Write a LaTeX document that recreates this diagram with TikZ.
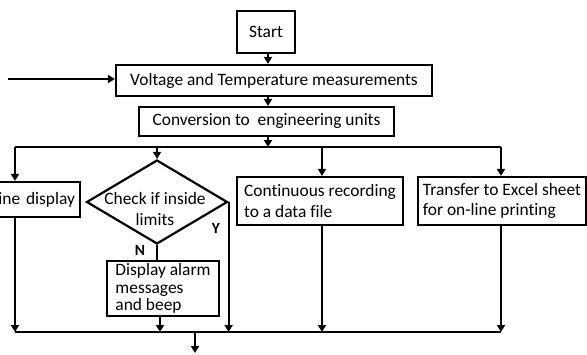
\documentclass[tikz,border=0pt]{standalone}
\usepackage{fontspec}
\setmainfont{Carlito}[Ligatures=NoCommon]
\usetikzlibrary{arrows.meta,shapes.geometric}

\begin{document}
\begin{tikzpicture}[x=1pt,y=-1pt,
  line width=2.2pt,
  txt/.style={font=\fontsize{17.4}{20.5}\selectfont},
  box/.style={draw,rectangle,inner sep=0pt,txt},
  arr/.style={-{Triangle[length=7pt,width=8pt]}},
  yn/.style={font=\fontsize{15.5}{18}\selectfont\bfseries,inner sep=0pt}]
\useasboundingbox (0,0) rectangle (587,354);
\clip (0,0) rectangle (587,354);

% process boxes
\node[box,minimum width=58,minimum height=42] (start) at (266,32) {Start};
\node[box,minimum width=316,minimum height=31] (vm) at (274,80.5)
  {Voltage and Temperature measurements};
\node[box,minimum width=255,minimum height=29] (conv) at (266.5,121.5)
  {Conversion to\ \ engineering units};
\node[box,minimum width=130,minimum height=35,text width=120,align=right]
  (disp) at (15,199.5) {On-line display};
\node[draw,diamond,minimum width=141,minimum height=84,inner sep=0pt]
  (dia) at (157,202) {};
\node[txt,align=center,inner sep=0pt] (diatxt) at (155,209)
  {Check if inside\\limits};
\node[box,minimum width=112,minimum height=55,align=left,
  font=\fontsize{17.4}{17.5}\selectfont] (alarm) at (163,288.5)
  {Display alarm\\messages\\and beep};
\node[box,minimum width=166,minimum height=48,align=left]
  (cont) at (320,201) {Continuous recording\\to a data file};
\node[box,minimum width=168,minimum height=48,align=left]
  (xl) at (502,201) {Transfer to Excel sheet\\for on-line printing};

% branch labels
\node[yn] (no) at (140,250) {N};
\node[yn] (yes) at (216,228) {Y};

% junction points
\coordinate (in) at (8,79);
\coordinate (sp) at (268,147);
\coordinate (sl) at (15,147);
\coordinate (sr) at (501,147);
\coordinate (jb) at (160,332);
\coordinate (jl) at (15,332);
\coordinate (jr) at (501,332);
\coordinate (out) at (195,353);

% main trunk
\draw[arr] (in) -- (vm.west |- in);
\draw[arr] (start.south -| sp) -- (vm.north -| sp);
\draw[arr] (vm.south -| sp) -- (conv.north -| sp);
\draw[arr] (conv.south -| sp) -- (sp);

% fan out
\draw (sl) -- (sr);
\draw[arr] (sl) -- (disp.north -| sl);
\draw[arr] (sl -| dia.north) -- (dia.north);
\draw[arr] (sl -| 322,0) -- (cont.north -| 322,0);
\draw[arr] (sr) -- (xl.north -| sr);

% decision
\draw (dia.south) -- (alarm.north -| dia.south);
\draw[arr] (dia.east) -- (dia.east |- jb);
\draw[arr] (alarm.south -| jb) -- (jb);

% fan in
\draw (jl) -- (jr);
\draw[arr] (disp.south -| jl) -- (jl);
\draw[arr] (cont.south -| 322,0) -- (jb -| 322,0);
\draw[arr] (xl.south -| jr) -- (jr);
\draw[arr] (jb -| out) -- (out);
\end{tikzpicture}
\end{document}
